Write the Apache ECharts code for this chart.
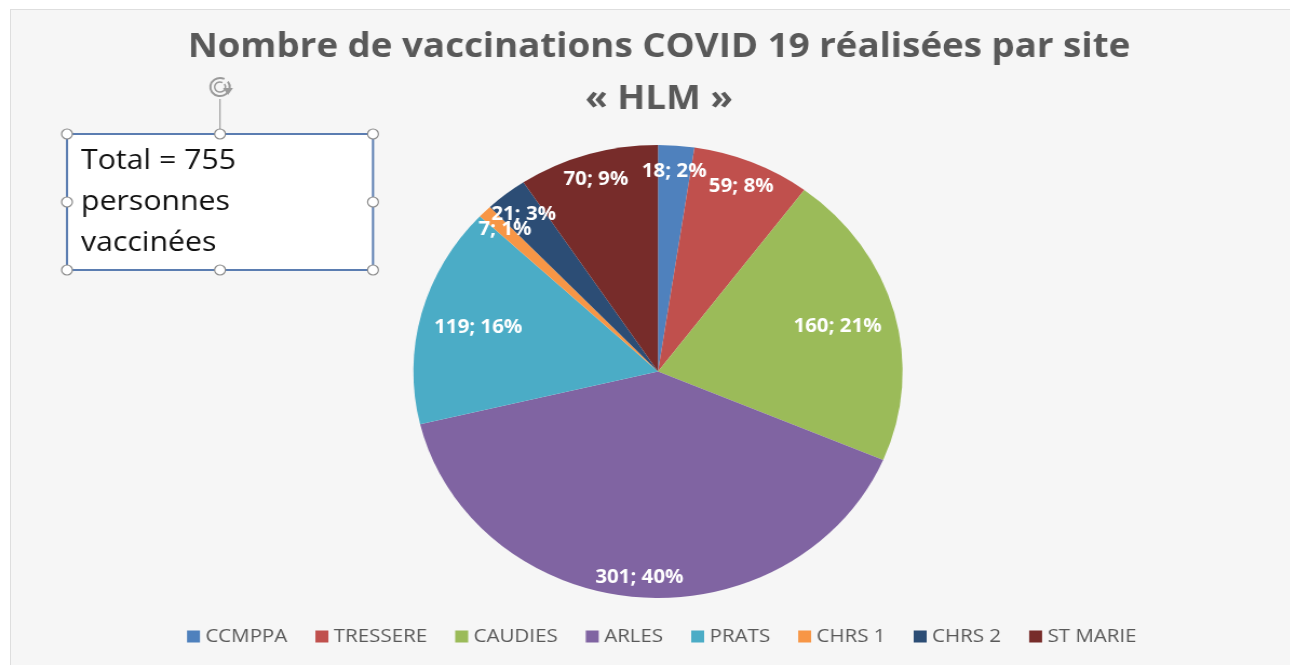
<!DOCTYPE html>
<html>
<head>
<meta charset="utf-8">
<script src="https://cdn.jsdelivr.net/npm/echarts@6/dist/echarts.min.js"></script>
<style>
  html, body { margin: 0; padding: 0; background: #ffffff; overflow: hidden; }
  #bg { position: absolute; left: 10px; top: 9px; width: 1280px; height: 656px; background: #f6f6f6; border-left: 1px solid #dedede; border-top: 1px solid #dedede; box-sizing: border-box; }
  #chart { position: absolute; left: 0; top: 0; width: 1195px; height: 665px; transform: scaleX(1.08); transform-origin: 0 0; }
</style>
</head>
<body>
<div id="bg"></div>
<div id="chart"></div>
<script>
const categories = ['CCMPPA', 'TRESSERE', 'CAUDIES', 'ARLES', 'PRATS', 'CHRS 1', 'CHRS 2', 'ST MARIE'];
const values = [18, 59, 160, 301, 119, 7, 21, 70];
const colors = ['#4F81BD', '#C0504D', '#9BBB59', '#8064A2', '#4BACC6', '#F79646', '#2C4D75', '#772C2A'];
const titleLines = ['Nombre de vaccinations COVID 19 réalisées par site', '« HLM »'];
const boxLines = ['Total = 755', 'personnes', 'vaccinées'];

const S = 1.08;               // horizontal stretch of the reference picture
const X = v => v / S;         // screen x -> chart x
const font = 'Open Sans';
const total = values.reduce((a, b) => a + b, 0);

const chart = echarts.init(document.getElementById('chart'), null, { renderer: 'canvas' });

const bx0 = 67, bx1 = 373, by0 = 134, by1 = 270, bxm = 220, bym = 202;
const handlePts = [[bx0,by0],[bxm,by0],[bx1,by0],[bx0,bym],[bx1,bym],[bx0,by1],[bxm,by1],[bx1,by1]];
const graphics = [
  { type: 'text', x: X(659), y: 47, style: { text: titleLines[0], font: 'bold 34px "Open Sans"', fill: '#595959', textAlign: 'center', textVerticalAlign: 'middle' }, z: 5 },
  { type: 'text', x: X(659), y: 99, style: { text: titleLines[1], font: 'bold 34px "Open Sans"', fill: '#595959', textAlign: 'center', textVerticalAlign: 'middle' }, z: 5 },
  { type: 'line', shape: { x1: X(bxm), y1: 99, x2: X(bxm), y2: by0 }, style: { stroke: '#8c8c8c', lineWidth: 1 }, z: 10 },
  { type: 'rect', shape: { x: X(bx0), y: by0, width: X(bx1) - X(bx0), height: by1 - by0 }, style: { fill: '#ffffff', stroke: '#5b7db1', lineWidth: 2 }, z: 10 },
  { type: 'text', left: X(81), top: 141, style: { text: boxLines.join('\n'), font: '28px "Open Sans"', fill: '#111111', lineHeight: 41 }, z: 11 },
  { type: 'arc', shape: { cx: X(220), cy: 87, r: 9, startAngle: -Math.PI * 0.2, endAngle: Math.PI * 1.65 }, style: { stroke: '#9a9a9a', lineWidth: 2, fill: null }, z: 11 },
  { type: 'arc', shape: { cx: X(220), cy: 87, r: 5, startAngle: -Math.PI * 0.2, endAngle: Math.PI * 1.65 }, style: { stroke: '#9a9a9a', lineWidth: 1.5, fill: null }, z: 11 },
  { type: 'polygon', shape: { points: [[X(223), 88], [X(233), 88], [X(228), 95]] }, style: { fill: '#9a9a9a' }, z: 11 }
];
handlePts.forEach(p => graphics.push({ type: 'circle', shape: { cx: X(p[0]), cy: p[1], r: 5 }, style: { fill: '#ffffff', stroke: '#8c8c8c', lineWidth: 1.2 }, z: 12 }));

const cx = X(658), cy = 371.5, R = 226.5;

// Excel-like "best fit": mid-size slices get their label nearer the centre,
// the largest slice and the small ones near the rim.
const ringOf = v => {
  const share = v / total;
  if (share >= 0.3) return 'outer';
  if (share >= 0.12) return 'inner';
  return 'rim';
};
const rings = { inner: [112, R], rim: [168, R], outer: [182, R] };

const baseSeries = {
  type: 'pie',
  center: [cx, cy],
  radius: [0, R],
  startAngle: 90,
  clockwise: true,
  silent: true,
  label: { show: false },
  labelLine: { show: false },
  itemStyle: { borderWidth: 0 },
  data: categories.map((c, i) => ({ name: c, value: values[i] }))
};

const labelSeries = Object.keys(rings).map(ring => ({
  type: 'pie',
  center: [cx, cy],
  radius: rings[ring],
  startAngle: 90,
  clockwise: true,
  silent: true,
  avoidLabelOverlap: false,
  minShowLabelAngle: 0,
  labelLayout: { hideOverlap: false },
  itemStyle: { color: 'rgba(0,0,0,0)', borderWidth: 0 },
  label: {
    position: 'inside',
    formatter: p => p.value + '; ' + Math.round(p.percent) + '%',
    fontFamily: font,
    fontSize: 19,
    fontWeight: 'bold',
    color: '#ffffff',
    overflow: 'none'
  },
  labelLine: { show: false },
  data: categories.map((c, i) => ({ name: c, value: values[i], label: { show: ringOf(values[i]) === ring } }))
}));

chart.setOption({
  color: colors,
  animation: false,
  legend: {
    data: categories,
    top: 627,
    left: X(187),
    padding: 0,
    icon: 'rect',
    itemWidth: 12,
    itemHeight: 12,
    itemGap: 26,
    textStyle: { fontFamily: font, fontSize: 19, color: '#595959' }
  },
  graphic: graphics,
  series: [baseSeries].concat(labelSeries)
});
</script>
</body>
</html>
